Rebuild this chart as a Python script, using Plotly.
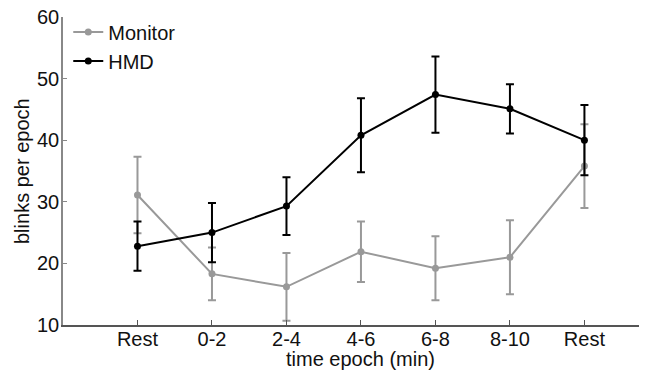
import plotly.graph_objects as go

epochs = ["Rest", "0-2", "2-4", "4-6", "6-8", "8-10", "Rest"]
positions = [1, 2, 3, 4, 5, 6, 7]

monitor_mean = [31.1, 18.3, 16.2, 21.9, 19.2, 21.0, 35.8]
monitor_err = [6.2, 4.3, 5.5, 4.9, 5.2, 6.0, 6.8]

hmd_mean = [22.8, 25.0, 29.3, 40.8, 47.4, 45.1, 40.0]
hmd_err = [4.0, 4.8, 4.7, 6.0, 6.2, 4.0, 5.7]

y_ticks = [10, 20, 30, 40, 50, 60]

GRAY = "#999999"
FONT = "Liberation Sans, Arial, sans-serif"
FS = 20

fig = go.Figure()
fig.add_trace(go.Scatter(
    x=positions, y=monitor_mean, name="Monitor", mode="lines+markers",
    line=dict(color=GRAY, width=2), marker=dict(color=GRAY, size=7),
    error_y=dict(type="data", array=monitor_err, color=GRAY, thickness=2, width=4),
))
fig.add_trace(go.Scatter(
    x=positions, y=hmd_mean, name="HMD", mode="lines+markers",
    line=dict(color="black", width=2), marker=dict(color="black", size=7),
    error_y=dict(type="data", array=hmd_err, color="black", thickness=2, width=4),
))

# page body has an 8px default margin, so the figure is sized to fit the window
fig.update_layout(
    width=639, height=364,
    margin=dict(l=55, r=0, t=9, b=47, autoexpand=False),
    paper_bgcolor="white", plot_bgcolor="white",
    font=dict(family=FONT, size=FS, color="#111111"),
    showlegend=True,
    legend=dict(x=0.009, y=1.015, xanchor="left", yanchor="top",
                bgcolor="rgba(0,0,0,0)", font=dict(size=FS),
                itemwidth=30, tracegroupgap=0),
    xaxis=dict(
        range=[0, 7.84], tickmode="array", tickvals=positions, ticktext=epochs,
        showgrid=False, zeroline=False, showline=True, linecolor="#555555", linewidth=1.5,
        ticks="inside", ticklen=5, tickcolor="#555555", automargin=False,
        tickfont=dict(size=FS), ticklabelstandoff=-5, ticklabeloverflow="allow",
    ),
    yaxis=dict(
        range=[10, 60], tickmode="array", tickvals=y_ticks,
        showgrid=False, zeroline=False, showline=True, linecolor="#888888", linewidth=1.5,
        ticks="inside", ticklen=4, tickcolor="#888888", automargin=False,
        tickfont=dict(size=FS), ticklabelstandoff=-2, ticklabeloverflow="allow",
    ),
    annotations=[
        dict(text="time epoch (min)", xref="paper", yref="paper",
             x=(360 - 63) / 584, y=-34 / 308, xanchor="center", yanchor="middle",
             showarrow=False, font=dict(size=FS)),
        dict(text="blinks per epoch", xref="paper", yref="paper",
             x=-41 / 584, y=0.5, xanchor="center", yanchor="middle",
             textangle=-90, showarrow=False, font=dict(size=FS)),
    ],
)

fig.write_html("out.html")
